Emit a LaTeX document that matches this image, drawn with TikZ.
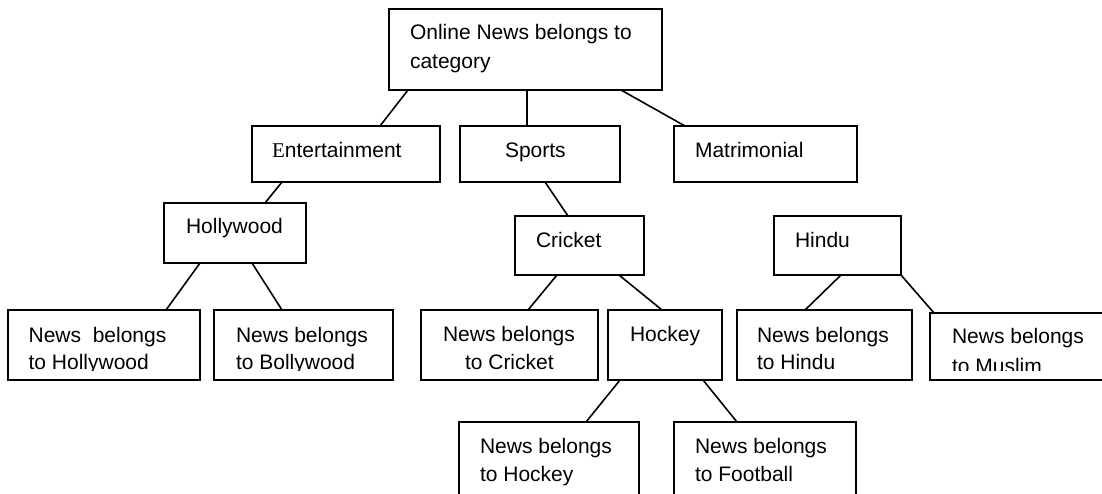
\documentclass[tikz,border=0pt]{standalone}
\usepackage{fontspec}
\setmainfont{Liberation Sans}
\newfontfamily\serifE{Liberation Serif}
\begin{document}
\begin{tikzpicture}[x=1pt,y=-1pt,
  box/.style={draw=black, line width=1.8pt, rectangle, inner sep=0pt, outer sep=0pt, anchor=north west},
  conn/.style={draw=black, line width=1.6pt},
  txt/.style={anchor=base west, inner sep=0pt, outer sep=0pt, font=\fontsize{21pt}{25pt}\selectfont}]
\useasboundingbox (0,0) rectangle (1102,493);
\clip (0,0) rectangle (1102,493);
% boxes
\node[box, minimum width=273pt, minimum height=81pt] (root) at (389,9) {};
\node[box, minimum width=188pt, minimum height=56pt] (ent) at (252,126) {};
\node[box, minimum width=160pt, minimum height=56pt] (sports) at (460,126) {};
\node[box, minimum width=183pt, minimum height=56pt] (matr) at (674,126) {};
\node[box, minimum width=142pt, minimum height=60pt] (holly) at (164,203) {};
\node[box, minimum width=129pt, minimum height=59pt] (cricket) at (515,216) {};
\node[box, minimum width=127pt, minimum height=59pt] (hindu) at (774,216) {};
\node[box, minimum width=192pt, minimum height=70pt] (nholly) at (8,310) {};
\node[box, minimum width=179pt, minimum height=70pt] (nbolly) at (214,310) {};
\node[box, minimum width=177pt, minimum height=70pt] (ncricket) at (421,310) {};
\node[box, minimum width=114pt, minimum height=70pt] (hockey) at (608,310) {};
\node[box, minimum width=175pt, minimum height=70pt] (nhindu) at (737,310) {};
\node[box, minimum width=190pt, minimum height=67pt] (nmuslim) at (930,313) {};
\node[box, minimum width=180pt, minimum height=100pt] (nhockey) at (459,422) {};
\node[box, minimum width=182pt, minimum height=100pt] (nfootball) at (674,422) {};
% connectors
\draw[conn] ([xshift=19pt]root.south west) -- ([xshift=128pt]ent.north west);
\draw[conn] ([xshift=138pt]root.south west) -- ([xshift=67pt]sports.north west);
\draw[conn] ([xshift=232pt]root.south west) -- ([xshift=11pt]matr.north west);
\draw[conn] ([xshift=30pt]ent.south west) -- ([xshift=101pt]holly.north west);
\draw[conn] ([xshift=85pt]sports.south west) -- ([xshift=53pt]cricket.north west);
\draw[conn] ([xshift=36pt]holly.south west) -- ([xshift=158pt]nholly.north west);
\draw[conn] ([xshift=88pt]holly.south west) -- ([xshift=68pt]nbolly.north west);
\draw[conn] ([xshift=42pt]cricket.south west) -- ([xshift=107pt]ncricket.north west);
\draw[conn] ([xshift=104pt]cricket.south west) -- ([xshift=54pt]hockey.north west);
\draw[conn] ([xshift=67pt]hindu.south west) -- ([xshift=68pt]nhindu.north west);
\draw[conn] (hindu.south east) -- ([xshift=4pt]nmuslim.north west);
\draw[conn] ([xshift=12pt]hockey.south west) -- ([xshift=127pt]nhockey.north west);
\draw[conn] ([xshift=95pt]hockey.south west) -- ([xshift=63pt]nfootball.north west);
% texts
\node[txt] (rootA) at (410,39) {Online News belongs to};
\node[txt] (rootB) at (410,68) {category};
\node[txt] (entT) at (272,157) {{\serifE E}ntertainment};
\node[txt] (sportsT) at (505,157) {Sports};
\node[txt] (matrT) at (695,157) {Matrimonial};
\node[txt] (hollyT) at (186,233) {Hollywood};
\node[txt] (cricketT) at (536,247) {Cricket};
\node[txt] (hinduT) at (795,247) {Hindu};
\node[txt] (nhollyA) at (28.6,342) {News\ \ belongs};
\begin{scope}
\clip (0,300) rectangle (220,370);
\node[txt] (nhollyB) at (28.6,369) {to Hollywood};
\end{scope}
\node[txt] (nbollyA) at (236,342) {News belongs};
\begin{scope}
\clip (214,300) rectangle (400,370);
\node[txt] (nbollyB) at (236,369) {to Bollywood};
\end{scope}
\node[txt] (ncricketA) at (443,341) {News belongs};
\node[txt] (ncricketB) at (465,369) {to Cricket};
\node[txt] (hockeyT) at (630,341) {Hockey};
\node[txt] (nhinduA) at (757,342) {News belongs};
\node[txt] (nhinduB) at (757,369) {to Hindu};
\node[txt] (nmuslimA) at (952,343) {News belongs};
\begin{scope}
\clip (930,300) rectangle (1102,370);
\node[txt] (nmuslimB) at (952,373) {to Muslim};
\end{scope}
\node[txt] (nhockeyA) at (480,453) {News belongs};
\node[txt] (nhockeyB) at (480,481) {to Hockey};
\node[txt] (nfootballA) at (695,453) {News belongs};
\node[txt] (nfootballB) at (695,481) {to Football};
\end{tikzpicture}
\end{document}
